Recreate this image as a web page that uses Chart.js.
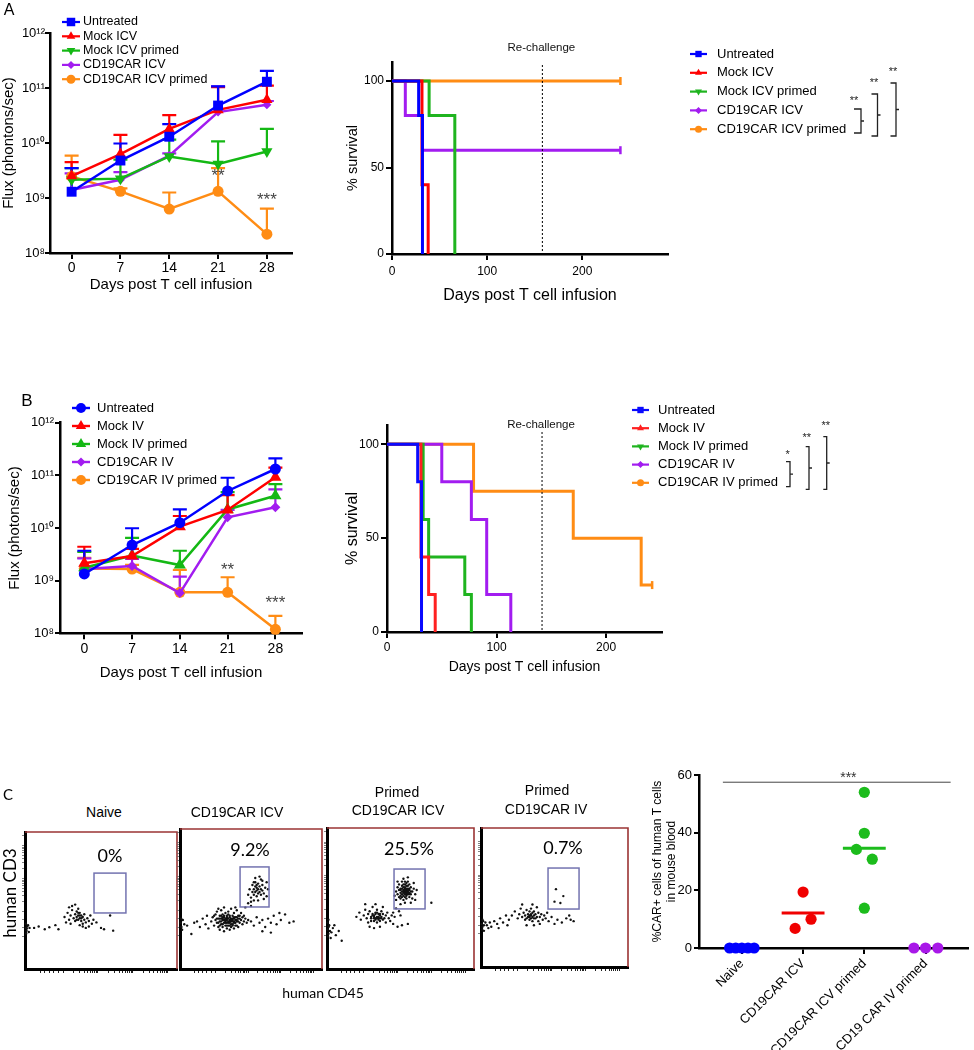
<!DOCTYPE html>
<html>
<head>
<meta charset="utf-8">
<script src="https://cdn.jsdelivr.net/npm/chart.js@4.4.0/dist/chart.umd.min.js"></script>
<style>
  body { margin: 0; background: #fff; }
  #page { position: relative; width: 974px; height: 1050px; overflow: hidden; font-family: 'Liberation Sans', Arial, sans-serif; }
  canvas { position: absolute; }
  .lbl { position: absolute; transform: translate(-50%, -50%); white-space: nowrap; color: #000; line-height: 1; z-index: 2; }
  .pct { font-family: Lato, 'Liberation Sans', sans-serif; font-size: 18px; }
</style>
</head>
<body>
<div id="page">
  <div class="lbl" style="left:9px;top:10px;font-size:16px">A</div>
  <div class="lbl" style="left:27px;top:400px;font-size:17px">B</div>
  <div class="lbl" style="left:8px;top:794px;font-size:15px;font-family:Lato,sans-serif">C</div>

  <div class="lbl" style="left:104px;top:812px;font-size:14px">Naive</div>
  <div class="lbl" style="left:237px;top:812px;font-size:14px">CD19CAR ICV</div>
  <div class="lbl" style="left:397px;top:792px;font-size:14px">Primed</div>
  <div class="lbl" style="left:398px;top:810px;font-size:14px">CD19CAR ICV</div>
  <div class="lbl" style="left:547px;top:790px;font-size:14px">Primed</div>
  <div class="lbl" style="left:546px;top:809px;font-size:14px">CD19CAR IV</div>

  <div class="lbl pct" style="left:110px;top:855px">0%</div>
  <div class="lbl pct" style="left:250px;top:849px">9.2%</div>
  <div class="lbl pct" style="left:409px;top:848px">25.5%</div>
  <div class="lbl pct" style="left:563px;top:847px">0.7%</div>

  <div class="lbl" style="left:9px;top:893px;font-size:17px;font-family:Lato,sans-serif;transform:translate(-50%,-50%) rotate(-90deg)">human CD3</div>
  <div class="lbl" style="left:323px;top:993px;font-size:14px;font-family:Lato,sans-serif">human CD45</div>
</div>
<script>
// ---------- data ----------
const fluxDays = [0, 7, 14, 21, 28];
const fluxDecades = [1e8, 1e9, 1e10, 1e11, 1e12];

// panel A: ICV groups, mean flux and top of error bar
const groupsA = ['Untreated', 'Mock ICV', 'Mock ICV primed', 'CD19CAR ICV', 'CD19CAR ICV primed'];
const fluxAUntreated = [1.3e9, 4.8e9, 1.3e10, 4.8e10, 1.3e11];
const fluxAUntreatedErr = [3.5e9, 9.8e9, 2.2e10, 1.07e11, 2.05e11];
const fluxAMock = [2.5e9, 6.3e9, 1.8e10, 4.0e10, 6.1e10];
const fluxAMockErr = [4.5e9, 1.4e10, 3.2e10, 1.04e11, 1.1e11];
const fluxAMockPrimed = [2.15e9, 2.25e9, 5.7e9, 4.15e9, 7.0e9];
const fluxAMockPrimedErr = [3.5e9, 5e9, 1.15e10, 1.07e10, 1.8e10];
const fluxACar = [1.4e9, 2.15e9, 5.9e9, 3.65e10, 4.97e10];
const fluxACarErr = [2.8e9, 2.95e9, 6.5e9, 1.07e11, 5.8e10];
const fluxACarPrimed = [2.47e9, 1.32e9, 6.3e8, 1.32e9, 2.2e8];
const fluxACarPrimedErr = [5.9e9, 1.5e9, 1.26e9, 3.5e9, 6.4e8];

// panel B: IV groups
const groupsB = ['Untreated', 'Mock IV', 'Mock IV primed', 'CD19CAR IV', 'CD19CAR IV primed'];
const fluxBUntreated = [1.34e9, 4.75e9, 1.26e10, 5.05e10, 1.32e11];
const fluxBUntreatedErr = [3.7e9, 9.9e9, 2.26e10, 9.0e10, 2.1e11];
const fluxBMock = [2.14e9, 2.94e9, 1.06e10, 2.2e10, 9.2e10];
const fluxBMockErr = [4.4e9, 4.0e9, 1.69e10, 4.2e10, 1.4e11];
const fluxBMockPrimed = [1.76e9, 3.0e9, 1.98e9, 2.25e10, 4.1e10];
const fluxBMockPrimedErr = [3.5e9, 6.5e9, 3.7e9, 4.8e10, 6.8e10];
const fluxBCar = [1.66e9, 1.9e9, 5.8e8, 1.6e10, 2.47e10];
const fluxBCarErr = [2.65e9, 2.6e9, 1.19e9, 2.2e10, 5.4e10];
const fluxBCarPrimed = [1.7e9, 1.66e9, 6.0e8, 6.0e8, 1.19e8];
const fluxBCarPrimedErr = [2.7e9, 2.0e9, 1.6e9, 1.16e9, 2.14e8];

// survival curves: [day, % survival]
const survAUntreated = [[0, 100], [28, 80], [32, 0]];
const survAMock = [[0, 100], [31.5, 40], [38, 0]];
const survAMockPrimed = [[0, 100], [39, 80], [66, 0]];
const survACar = [[0, 100], [14, 80], [32, 60], [240, 60]];
const survACarPrimed = [[0, 100], [240, 100]];
const survACensored = [false, false, false, true, true];
const survARechallenge = 158;

const survBUntreated = [[0, 100], [28, 80], [31.5, 0]];
const survBMock = [[0, 100], [31, 40], [38, 20], [44, 0]];
const survBMockPrimed = [[0, 100], [33, 60], [38, 40], [71, 20], [77, 0]];
const survBCar = [[0, 100], [50, 80], [77, 60], [91, 20], [113, 0]];
const survBCarPrimed = [[0, 100], [79, 75], [170, 50], [232, 25], [242, 25]];
const survBCensored = [false, false, false, false, true];
const survBRechallenge = 141.5;

// panel C: %CAR+ of human T cells
const dotGroups = ['Naive', 'CD19CAR ICV', 'CD19CAR ICV primed', 'CD19 CAR IV primed'];
const dotNaive = [0, 0, 0, 0, 0];
const dotCarICV = [19.4, 6.8, 10.0];
const dotCarICVPrimed = [54, 39.8, 34.2, 30.8, 13.8];
const dotCarIVPrimed = [0, 0, 0];
const dotJitter = [[-0.2, -0.1, 0, 0.1, 0.2], [0, -0.13, 0.13], [0, 0, -0.13, 0.13, 0], [-0.19, 0, 0.2]];
const dotMeans = [0, 12.1, 34.6, 0];

// flow plots (CD45 x, CD3 y, both on a 0-100 display scale)
const flowNaive = [[0.5,30],[1,28],[1.5,31],[0.8,26],[2,32],[1.2,29.5],[3,30],[0.6,33],[2.5,27],[6,30],[9,31],[13,29],[16,30.5],[20,32],[22,29],
  [26,38],[28,41],[29,36],[30,39],[31,43],[32,37],[33,40],[33,35],[34,38],[34,42],[35,36],[35,39],[36,37],[36,41],[37,35],[37,39],[38,38],
  [38,33],[39,36],[39,40],[40,34],[41,37],[42,35],[43,39],[44,33],[31,46],[33,47],[29,45],[35,44],[36,32],[38,31],[40,30],[42,31],[27,34],
  [30,33],[45,36],[47,34],[50,30],[52,29],[56,39],[58,28],[34,36],[36,39],[37,37],[35,41]];
const flowCarICV = [[0.5,33],[1,30],[2,35],[1.5,28],[3,32],[0.8,36],[5,31],[8,25],[10,33],[12,34],[14,30],[16,36],[18,32],[20,29],[19,38],
  [22,34],[23,37],[24,31],[25,35],[25,39],[26,33],[27,36],[27,30],[28,38],[28,34],[29,32],[29,36],[30,35],[30,39],[30,30],[31,33],[31,37],
  [32,34],[32,36],[32,31],[33,35],[33,38],[33,33],[34,34],[34,36],[34,31],[35,35],[35,37],[35,33],[36,34],[36,36],[36,30],[37,35],[37,38],
  [37,32],[38,34],[38,36],[39,33],[39,37],[40,35],[40,31],[41,34],[41,38],[42,33],[42,36],[43,35],[44,32],[44,37],[45,34],[46,36],[47,33],
  [48,35],[26,41],[29,42],[31,44],[34,41],[36,43],[38,40],[40,42],[33,29],[35,28],[38,29],[41,30],[28,28],[31,27],[43,40],[45,38],[24,38],
  [27,43],[39,44],[32,40],[30,37],[35,31],[37,34],[33,36],[27,33],[28,36],[29,34],[30,32],[31,35],[31,38],[32,33],[33,31],[33,37],[34,33],
  [34,39],[35,34],[36,32],[36,35],[37,36],[38,33],[38,37],[39,35],[40,34],[40,37],[29,38],[30,36],[32,35],[35,38],[37,31],[39,31],[41,36],
  [42,38],[26,36],[28,31],[50,34],[52,31],[54,37],[56,33],[58,35],[60,30],[62,36],[64,33],[66,38],[68,32],
  [71,35],[74,39],[77,33],[80,34],[58,27],[64,26],[70,40],[46,44],[48,47],[50,45],[52,49],
  [48,53],[49,57],[50,51],[51,55],[51,60],[52,53],[52,57],[53,55],[53,59],[53,62],[54,52],[54,56],[54,58],[55,54],[55,57],[55,61],[56,55],
  [56,59],[57,53],[57,57],[57,64],[58,56],[58,60],[59,54],[60,58],[61,62],[56,66],[53,65],[50,48],[55,49],[59,50],[61,52],[52,62],[58,63],
  [54,60],[62,57]];
const flowPrimedICV = [[0.5,28],[1,25],[1.5,31],[0.7,23],[2,27],[1.2,30],[3,26],[0.5,33],[2.5,22],[4,29],[6,24],[8,27],[10,20],[5,31],[1,35],
  [20,37],[22,40],[23,35],[25,38],[26,42],[27,36],[28,39],[28,33],[29,41],[30,37],[30,34],[31,39],[31,44],[32,36],[32,38],[33,35],[33,40],
  [34,37],[34,33],[34,42],[35,36],[35,39],[36,38],[36,34],[37,37],[37,41],[38,35],[38,39],[39,36],[40,38],[40,33],[41,40],[42,36],[43,34],
  [44,38],[29,30],[32,29],[36,30],[26,46],[33,46],[38,44],[45,40],[47,43],[46,37],[49,41],[50,38],
  [30,36],[31,38],[32,37],[33,36],[33,39],[34,36],[35,37],[35,35],[36,36],[36,39],[37,36],[34,40],[32,34],
  [46,52],[47,55],[47,49],[48,53],[48,58],[49,51],[49,56],[49,60],[50,54],[50,57],[50,50],[51,53],[51,55],[51,59],[51,62],[52,52],[52,54],
  [52,56],[52,58],[53,51],[53,53],[53,55],[53,57],[53,60],[54,52],[54,54],[54,56],[54,59],[55,53],[55,55],[55,57],[55,62],[56,51],[56,54],
  [56,56],[57,53],[57,58],[58,55],[58,50],[59,57],[60,53],[61,56],[52,64],[55,65],[50,46],[53,47],[57,47],[59,61],[48,62],[54,50],[56,60],
  [52,49],[60,49],[50,52],[51,57],[52,55],[52,60],[53,54],[53,56],[53,58],[54,53],[54,55],[54,57],[55,54],[55,56],[55,59],[56,53],[56,57],
  [51,51],[50,56],[57,55],[53,62],[54,61],[71,47],[45,32],[48,30],[51,31],[55,32]];
const flowPrimedIV = [[0.5,31],[1,29],[1.5,33],[0.8,27],[2,30],[1,34],[3,32],[2,26],[4,30],[5,28],[6,32],[7,29],[9,33],[11,31],[13,35],
  [15,32],[17,37],[19,34],[12,28],[18,30],[21,37],[23,40],[25,35],[26,38],[27,42],[28,36],[29,39],[30,34],[30,37],[31,41],[31,35],[32,38],
  [32,36],[33,34],[33,37],[33,40],[34,35],[34,38],[34,42],[35,36],[35,33],[36,37],[36,40],[37,35],[37,38],[38,36],[39,39],[39,33],[40,36],
  [41,38],[42,34],[43,37],[44,35],[45,39],[28,45],[35,45],[38,43],[31,30],[36,30],[40,31],[46,33],[48,36],[50,31],[52,34],[55,32],[58,35],
  [61,34],[63,33],[60,37],[34,37],[35,39],[33,36],[36,35],[51,56],[56,51],[50,47],[54,46]];
const flowGates = [[45.4, 66.4, 40.9, 70], [42.3, 62.7, 44.3, 72.9], [45.6, 66.7, 42.6, 70.9], [45.6, 66.7, 41.7, 71.2]];

// ---------- styling ----------
const FONT = "'Liberation Sans', Arial, sans-serif";
const fluxCols = ['#0000ff', '#ff0000', '#14b814', '#a21cf0', '#ff8c14'];
const survColsA = ['#0000ff', '#ff0000', '#1fb41f', '#a21cf0', '#ff8c14'];
const survColsB = ['#0a0aff', '#ff2020', '#1fb41f', '#a21cf0', '#ff8c14'];
const dotCols = ['#0000ff', '#f00000', '#1cbc1c', '#a818e8'];
const SUP = {'0': '⁰', '1': '¹', '2': '²', '3': '³', '4': '⁴', '5': '⁵', '6': '⁶', '7': '⁷', '8': '⁸', '9': '⁹'};

Chart.defaults.font.family = FONT;
Chart.defaults.color = '#000';

function makeCanvas(left, top, w, h) {
    const c = document.createElement('canvas');
    c.width = w; c.height = h;
    c.style.left = left + 'px'; c.style.top = top + 'px';
    c.style.width = w + 'px'; c.style.height = h + 'px';
    document.getElementById('page').appendChild(c);
    return c;
}

function powLabel(v) {
    const e = String(Math.round(Math.log10(v)));
    return '10' + e.split('').map(ch => SUP[ch]).join('');
}

function drawMark(ctx, style, rot, r, x, y) {
    ctx.save();
    ctx.translate(x, y);
    ctx.rotate((rot || 0) * Math.PI / 180);
    ctx.beginPath();
    if (style === 'rect') {
        const s = r * Math.SQRT1_2;
        ctx.rect(-s, -s, 2 * s, 2 * s);
    } else if (style === 'rectRot') {
        ctx.moveTo(0, -r); ctx.lineTo(r, 0); ctx.lineTo(0, r); ctx.lineTo(-r, 0); ctx.closePath();
    } else if (style === 'triangle') {
        for (let k = 0; k < 3; k++) {
            const a = k * 2 * Math.PI / 3;
            if (k === 0) ctx.moveTo(Math.sin(a) * r, -Math.cos(a) * r);
            else ctx.lineTo(Math.sin(a) * r, -Math.cos(a) * r);
        }
        ctx.closePath();
    } else {
        ctx.arc(0, 0, r, 0, Math.PI * 2);
    }
    ctx.fill();
    ctx.restore();
}

// ---------- plugins ----------
const markLegend = {
    id: 'markLegend',
    afterDraw(chart, args, o) {
        if (!o || o.x === undefined) return;
        const ctx = chart.ctx;
        ctx.save();
        chart.data.datasets.forEach((ds, i) => {
            if (!ds.mark) return;
            const y = o.y + i * o.dy;
            ctx.strokeStyle = ds.borderColor;
            ctx.fillStyle = ds.borderColor;
            ctx.lineWidth = o.lw;
            ctx.beginPath(); ctx.moveTo(o.x, y); ctx.lineTo(o.x + o.len, y); ctx.stroke();
            drawMark(ctx, ds.mark.style, ds.mark.rot, ds.mark.lr, o.x + o.len / 2, y);
            ctx.fillStyle = '#000';
            ctx.font = o.size + 'px ' + FONT;
            ctx.textAlign = 'left';
            ctx.textBaseline = 'middle';
            ctx.fillText(ds.label, o.tx, y);
        });
        ctx.restore();
    }
};

const errBars = {
    id: 'errBars',
    beforeDatasetsDraw(chart, args, o) {
        if (!o || !o.cap) return;
        const {ctx, scales: {x, y}} = chart;
        ctx.save();
        for (let i = chart.data.datasets.length - 1; i >= 0; i--) {
            const ds = chart.data.datasets[i];
            if (!ds.err) continue;
            ctx.strokeStyle = ds.borderColor;
            ctx.lineWidth = o.lw;
            ds.data.forEach((p, j) => {
                const px = x.getPixelForValue(p.x);
                const py = y.getPixelForValue(p.y);
                const pt = y.getPixelForValue(ds.err[j]);
                ctx.beginPath();
                ctx.moveTo(px, py); ctx.lineTo(px, pt);
                ctx.moveTo(px - o.cap, pt); ctx.lineTo(px + o.cap, pt);
                ctx.stroke();
            });
        }
        ctx.restore();
    }
};

const notes = {
    id: 'notes',
    afterDatasetsDraw(chart, args, o) {
        if (!o || !o.items) return;
        const {ctx, scales: {x, y}} = chart;
        ctx.save();
        o.items.forEach(n => {
            ctx.font = n.size + 'px ' + FONT;
            ctx.fillStyle = n.color;
            ctx.textAlign = 'center';
            ctx.textBaseline = 'middle';
            ctx.fillText(n.text, x.getPixelForValue(n.x), y.getPixelForValue(n.y));
        });
        ctx.restore();
    }
};

const rechallenge = {
    id: 'rechallenge',
    afterDatasetsDraw(chart, args, o) {
        if (!o || o.day === undefined) return;
        const {ctx, chartArea, scales: {x}} = chart;
        const px = x.getPixelForValue(o.day);
        ctx.save();
        ctx.strokeStyle = '#000';
        ctx.lineWidth = 1;
        ctx.setLineDash([2, 2]);
        ctx.beginPath(); ctx.moveTo(px, chartArea.top + o.gap); ctx.lineTo(px, chartArea.bottom); ctx.stroke();
        ctx.setLineDash([]);
        ctx.font = o.size + 'px ' + FONT;
        ctx.fillStyle = '#111';
        ctx.textAlign = 'center';
        ctx.textBaseline = 'middle';
        ctx.fillText('Re-challenge', px - 1, chartArea.top + o.dy);
        ctx.restore();
    }
};

const brackets = {
    id: 'brackets',
    afterDraw(chart, args, o) {
        if (!o || !o.items) return;
        const ctx = chart.ctx;
        ctx.save();
        ctx.strokeStyle = '#222';
        ctx.fillStyle = '#222';
        ctx.lineWidth = 1.3;
        ctx.font = o.size + 'px ' + FONT;
        ctx.textAlign = 'center';
        ctx.textBaseline = 'middle';
        o.items.forEach(b => {
            const mid = (b.y1 + b.y2) / 2;
            ctx.beginPath();
            ctx.moveTo(b.x1, b.y1); ctx.lineTo(b.x2, b.y1); ctx.lineTo(b.x2, b.y2); ctx.lineTo(b.x1, b.y2);
            ctx.moveTo(b.x2, mid); ctx.lineTo(b.x2 + 3, mid);
            ctx.stroke();
            ctx.fillText(b.text, b.tx, b.ty);
        });
        ctx.restore();
    }
};

const flowFrame = {
    id: 'flowFrame',
    afterDraw(chart, args, o) {
        if (!o || !o.gate) return;
        const {ctx, chartArea: a, scales: {x, y}} = chart;
        ctx.save();
        ctx.strokeStyle = '#9b3434';
        ctx.lineWidth = 1.6;
        ctx.beginPath(); ctx.moveTo(a.left, a.top); ctx.lineTo(a.right, a.top); ctx.lineTo(a.right, a.bottom); ctx.stroke();
        const g = o.gate;
        const x1 = x.getPixelForValue(g[0]), x2 = x.getPixelForValue(g[1]);
        const y1 = y.getPixelForValue(g[2]), y2 = y.getPixelForValue(g[3]);
        ctx.strokeStyle = '#7373b0';
        ctx.lineWidth = 1.5;
        ctx.strokeRect(x1, y2, x2 - x1, y1 - y2);
        ctx.restore();
    }
};

Chart.register(markLegend, errBars, notes, rechallenge, brackets, flowFrame);

// ---------- flux charts ----------
function fluxChart(canvas, labels, means, errs, marks, stars, geo) {
    const datasets = labels.map((lab, i) => ({
        label: lab,
        data: means[i].map((v, j) => ({x: fluxDays[j], y: v})),
        err: errs[i],
        mark: marks[i],
        borderColor: fluxCols[i],
        backgroundColor: fluxCols[i],
        borderWidth: 2.5,
        pointStyle: marks[i].style,
        pointRotation: marks[i].rot || 0,
        pointRadius: marks[i].r,
        pointBorderWidth: 0,
        tension: 0,
        clip: false
    }));
    return new Chart(canvas, {
        type: 'line',
        data: {datasets},
        options: {
            responsive: false, animation: false, events: [],
            layout: {padding: {top: geo.padTop, right: geo.padRight, left: 0, bottom: 0}},
            plugins: {
                legend: {display: false}, tooltip: {enabled: false},
                markLegend: geo.legend,
                errBars: {cap: 7, lw: 2.2},
                notes: {items: stars}
            },
            scales: {
                x: {
                    type: 'linear', min: geo.xMin, max: geo.xMax,
                    afterBuildTicks: s => { s.ticks = fluxDays.map(v => ({value: v})); },
                    afterFit: s => { s.height = geo.xBox; },
                    border: {color: '#000', width: 2.5},
                    grid: {drawOnChartArea: false, color: '#000', lineWidth: 2, tickLength: 6},
                    ticks: {font: {size: 14}, padding: 1, maxRotation: 0},
                    title: {display: true, text: 'Days post T cell infusion', font: {size: 15}, padding: {top: 0, bottom: geo.xTitlePad}}
                },
                y: {
                    type: 'logarithmic', min: 1e8, max: 1e12,
                    afterBuildTicks: s => { s.ticks = fluxDecades.map(v => ({value: v})); },
                    afterFit: s => { s.width = geo.yBox; },
                    border: {color: '#000', width: 2.5},
                    grid: {drawOnChartArea: false, color: '#000', lineWidth: 2, tickLength: 5},
                    ticks: {font: {size: 13}, padding: geo.yTickPad, callback: v => powLabel(v)},
                    title: {display: true, text: geo.yTitle, font: {size: 15}, padding: {top: geo.yTitlePad, bottom: 0}}
                }
            }
        }
    });
}

// ---------- survival charts ----------
function survChart(canvas, labels, curves, marks, censored, cols, geo) {
    const datasets = labels.map((lab, i) => ({
        label: lab,
        mark: marks[i],
        data: curves[i].map(p => ({x: p[0], y: p[1]})),
        stepped: 'before',
        borderColor: cols[i],
        backgroundColor: cols[i],
        borderWidth: 3,
        pointStyle: 'line',
        pointRotation: 90,
        pointBorderColor: cols[i],
        pointBorderWidth: 2.5,
        pointRadius: curves[i].map((p, j) => (censored[i] && j === curves[i].length - 1) ? 4 : 0),
        clip: false
    }));
    return new Chart(canvas, {
        type: 'line',
        data: {datasets},
        options: {
            responsive: false, animation: false, events: [],
            layout: {padding: {top: geo.padTop, right: geo.padRight, left: 0, bottom: 0}},
            plugins: {
                legend: {display: false}, tooltip: {enabled: false},
                markLegend: geo.legend,
                rechallenge: geo.rechallenge,
                brackets: geo.brackets
            },
            scales: {
                x: {
                    type: 'linear', min: 0, max: geo.xMax,
                    afterBuildTicks: s => { s.ticks = [0, 100, 200].map(v => ({value: v})); },
                    afterFit: s => { s.height = geo.xBox; },
                    border: {color: '#000', width: 2.5},
                    grid: {drawOnChartArea: false, color: '#000', lineWidth: 2, tickLength: 6},
                    ticks: {font: {size: 12}, padding: geo.xTickPad, maxRotation: 0},
                    title: {display: true, text: 'Days post T cell infusion', font: {size: geo.xTitleSize}, padding: {top: 0, bottom: geo.xTitlePad}}
                },
                y: {
                    type: 'linear', min: 0, max: geo.yMax,
                    afterBuildTicks: s => { s.ticks = [0, 50, 100].map(v => ({value: v})); },
                    afterFit: s => { s.width = geo.yBox; },
                    border: {color: '#000', width: 2.5},
                    grid: {drawOnChartArea: false, color: '#000', lineWidth: 2, tickLength: 6},
                    ticks: {font: {size: 12}, padding: 2},
                    title: {display: true, text: '% survival', font: {size: geo.yTitleSize}, padding: {top: geo.yTitlePad, bottom: 0}}
                }
            }
        }
    });
}

// ---------- flow plots ----------
function flowTicks(decades, span, lin) {
    const vals = lin.slice();
    decades.forEach(d => {
        vals.push(d);
        for (let k = 2; k < 10; k++) {
            const t = d + Math.log10(k) * span;
            if (t < 100) vals.push(t);
        }
    });
    return vals.map(value => ({value}));
}

function flowChart(box, pts, gate) {
    const c = makeCanvas(box[0] - 8, box[1] - 6, box[2] - box[0] + 14, box[3] - box[1] + 15);
    return new Chart(c, {
        type: 'scatter',
        data: {datasets: [{data: pts.map(p => ({x: p[0], y: p[1]})), pointRadius: 1.2, pointBorderWidth: 0, backgroundColor: '#111', clip: false}]},
        options: {
            responsive: false, animation: false, events: [],
            layout: {padding: {top: 6, right: 6, left: 0, bottom: 0}},
            plugins: {legend: {display: false}, tooltip: {enabled: false}, flowFrame: {gate}},
            scales: {
                x: {
                    type: 'linear', min: 0, max: 100,
                    afterBuildTicks: s => { s.ticks = flowTicks([25, 48, 71, 94], 23, [10, 13, 16, 19, 22]); },
                    afterFit: s => { s.height = 9; },
                    ticks: {display: false},
                    border: {color: '#000', width: 3},
                    grid: {drawOnChartArea: false, color: '#222', lineWidth: 1, tickLength: 4}
                },
                y: {
                    type: 'linear', min: 0, max: 100,
                    afterBuildTicks: s => { s.ticks = flowTicks([42, 66, 90], 24, [24, 30, 36]); },
                    afterFit: s => { s.width = 8; },
                    ticks: {display: false},
                    border: {color: '#000', width: 3},
                    grid: {drawOnChartArea: false, color: '#666', lineWidth: 0.8, tickLength: 3}
                }
            }
        }
    });
}

// ---------- dot plot ----------
function dotChart(canvas) {
    const sets = [dotNaive, dotCarICV, dotCarICVPrimed, dotCarIVPrimed];
    const datasets = [];
    sets.forEach((vals, i) => {
        if (dotMeans[i] > 0) {
            datasets.push({
                type: 'line',
                data: [{x: i - 0.35, y: dotMeans[i]}, {x: i + 0.35, y: dotMeans[i]}],
                borderColor: dotCols[i], borderWidth: 3, pointRadius: 0, clip: false
            });
        }
        datasets.push({
            type: 'scatter',
            data: vals.map((v, j) => ({x: i + dotJitter[i][j], y: v})),
            backgroundColor: dotCols[i], pointRadius: 5.6, pointBorderWidth: 0, clip: false
        });
    });
    datasets.push({
        type: 'line',
        data: [{x: -0.31, y: 57.5}, {x: 3.41, y: 57.5}],
        borderColor: '#444', borderWidth: 1, pointRadius: 0, clip: false
    });
    return new Chart(canvas, {
        type: 'scatter',
        data: {datasets},
        options: {
            responsive: false, animation: false, events: [],
            layout: {padding: {top: 15, right: 1, left: 0, bottom: 0}},
            plugins: {
                legend: {display: false}, tooltip: {enabled: false},
                notes: {items: [{x: 1.74, y: 58.8, text: '***', size: 14, color: '#333'}]}
            },
            scales: {
                x: {
                    type: 'linear', min: -0.7, max: 3.7,
                    afterBuildTicks: s => { s.ticks = [0, 1, 2, 3].map(v => ({value: v})); },
                    afterFit: s => { s.height = 102; },
                    border: {color: '#000', width: 2.5},
                    grid: {drawOnChartArea: false, color: '#000', lineWidth: 2, tickLength: 6},
                    ticks: {font: {size: 13}, padding: 2, minRotation: 45, maxRotation: 45, autoSkip: false, callback: v => dotGroups[v]}
                },
                y: {
                    type: 'linear', min: 0, max: 60,
                    afterBuildTicks: s => { s.ticks = [0, 20, 40, 60].map(v => ({value: v})); },
                    afterFit: s => { s.width = 59; },
                    border: {color: '#000', width: 2.5},
                    grid: {drawOnChartArea: false, color: '#000', lineWidth: 2, tickLength: 5},
                    ticks: {font: {size: 13}, padding: 2},
                    title: {display: true, text: ['%CAR+ cells of human T cells', 'in mouse blood'], font: {size: 12}, padding: {top: 10, bottom: 0}}
                }
            }
        }
    });
}

// ---------- build ----------
const marksA = [{style: 'rect', r: 7, lr: 6}, {style: 'triangle', r: 6.5, lr: 5}, {style: 'triangle', rot: 180, r: 6.5, lr: 5},
    {style: 'rectRot', r: 4.5, lr: 4}, {style: 'circle', r: 5.5, lr: 4.5}];
const marksB = [{style: 'circle', r: 5.5, lr: 5}, {style: 'triangle', r: 7, lr: 6}, {style: 'triangle', r: 7, lr: 6},
    {style: 'rectRot', r: 5, lr: 4.5}, {style: 'circle', r: 5.5, lr: 5}];
const marksSurv = [{style: 'rect', lr: 4.5}, {style: 'triangle', lr: 4}, {style: 'triangle', rot: 180, lr: 4},
    {style: 'rectRot', lr: 3.5}, {style: 'circle', lr: 3.5}];

fluxChart(makeCanvas(0, 0, 320, 295), groupsA,
    [fluxAUntreated, fluxAMock, fluxAMockPrimed, fluxACar, fluxACarPrimed],
    [fluxAUntreatedErr, fluxAMockErr, fluxAMockPrimedErr, fluxACarErr, fluxACarPrimedErr],
    marksA,
    [{x: 21, y: 2.45e9, text: '**', size: 17, color: '#444'}, {x: 28, y: 9.0e8, text: '***', size: 17, color: '#444'}],
    {padTop: 33, padRight: 28, xBox: 42, yBox: 50, xMin: -3.1, xMax: 31.6, xTitlePad: 1, yTitlePad: 0, yTickPad: 0,
     yTitle: 'Flux (phontons/sec)',
     legend: {x: 62, len: 18, tx: 83, y: 22, dy: 14.3, size: 12.5, lw: 2.2}});

fluxChart(makeCanvas(0, 380, 320, 302), groupsB,
    [fluxBUntreated, fluxBMock, fluxBMockPrimed, fluxBCar, fluxBCarPrimed],
    [fluxBUntreatedErr, fluxBMockErr, fluxBMockPrimedErr, fluxBCarErr, fluxBCarPrimedErr],
    marksB,
    [{x: 21, y: 1.55e9, text: '**', size: 17, color: '#444'}, {x: 28, y: 3.7e8, text: '***', size: 17, color: '#444'}],
    {padTop: 42.7, padRight: 18, xBox: 48.7, yBox: 60, xMin: -3.56, xMax: 31.9, xTitlePad: 0, yTitlePad: 6, yTickPad: 1,
     yTitle: 'Flux (photons/sec)',
     legend: {x: 72, len: 18, tx: 97, y: 28, dy: 18, size: 13, lw: 2.4}});

survChart(makeCanvas(320, 30, 654, 280), groupsA,
    [survAUntreated, survAMock, survAMockPrimed, survACar, survACarPrimed],
    marksSurv, survACensored, survColsA,
    {padTop: 32, padRight: 306, xBox: 56, yBox: 72, xMax: 290, yMax: 111, xTickPad: 4, xTitleSize: 16, xTitlePad: 5,
     yTitleSize: 14.5, yTitlePad: 24,
     legend: {x: 370, len: 17, tx: 397, y: 24, dy: 18.8, size: 13, lw: 2.2},
     rechallenge: {day: survARechallenge, gap: 3, dy: -14, size: 11.5},
     brackets: {size: 11, items: [
        {x1: 534, x2: 541, y1: 79, y2: 103, text: '**', tx: 534, ty: 71},
        {x1: 551.5, x2: 557.5, y1: 64, y2: 106, text: '**', tx: 554, ty: 53},
        {x1: 570.5, x2: 576, y1: 53, y2: 106, text: '**', tx: 573, ty: 42}]}});

survChart(makeCanvas(320, 395, 654, 290), groupsB,
    [survBUntreated, survBMock, survBMockPrimed, survBCar, survBCarPrimed],
    marksSurv, survBCensored, survColsB,
    {padTop: 30, padRight: 312, xBox: 53, yBox: 67, xMax: 251, yMax: 110.3, xTickPad: 2, xTitleSize: 14, xTitlePad: 9.6,
     yTitleSize: 16, yTitlePad: 23.4,
     legend: {x: 312, len: 17, tx: 338, y: 15, dy: 18.2, size: 13, lw: 2.2},
     rechallenge: {day: survBRechallenge, gap: 7, dy: 0, size: 11.5},
     brackets: {size: 11, items: [
        {x1: 466, x2: 470, y1: 66.7, y2: 91.7, text: '*', tx: 467.7, ty: 60},
        {x1: 485.7, x2: 489, y1: 51.7, y2: 94.3, text: '**', tx: 486.7, ty: 43},
        {x1: 503.3, x2: 506.7, y1: 41.7, y2: 94.3, text: '**', tx: 505.7, ty: 31}]}});

flowChart([25, 832, 177, 969], flowNaive, flowGates[0]);
flowChart([180, 829, 322, 969], flowCarICV, flowGates[1]);
flowChart([327, 828, 474, 969], flowPrimedICV, flowGates[2]);
flowChart([481, 828, 628, 967], flowPrimedIV, flowGates[3]);

dotChart(makeCanvas(640, 760, 334, 290));
</script>
</body>
</html>
